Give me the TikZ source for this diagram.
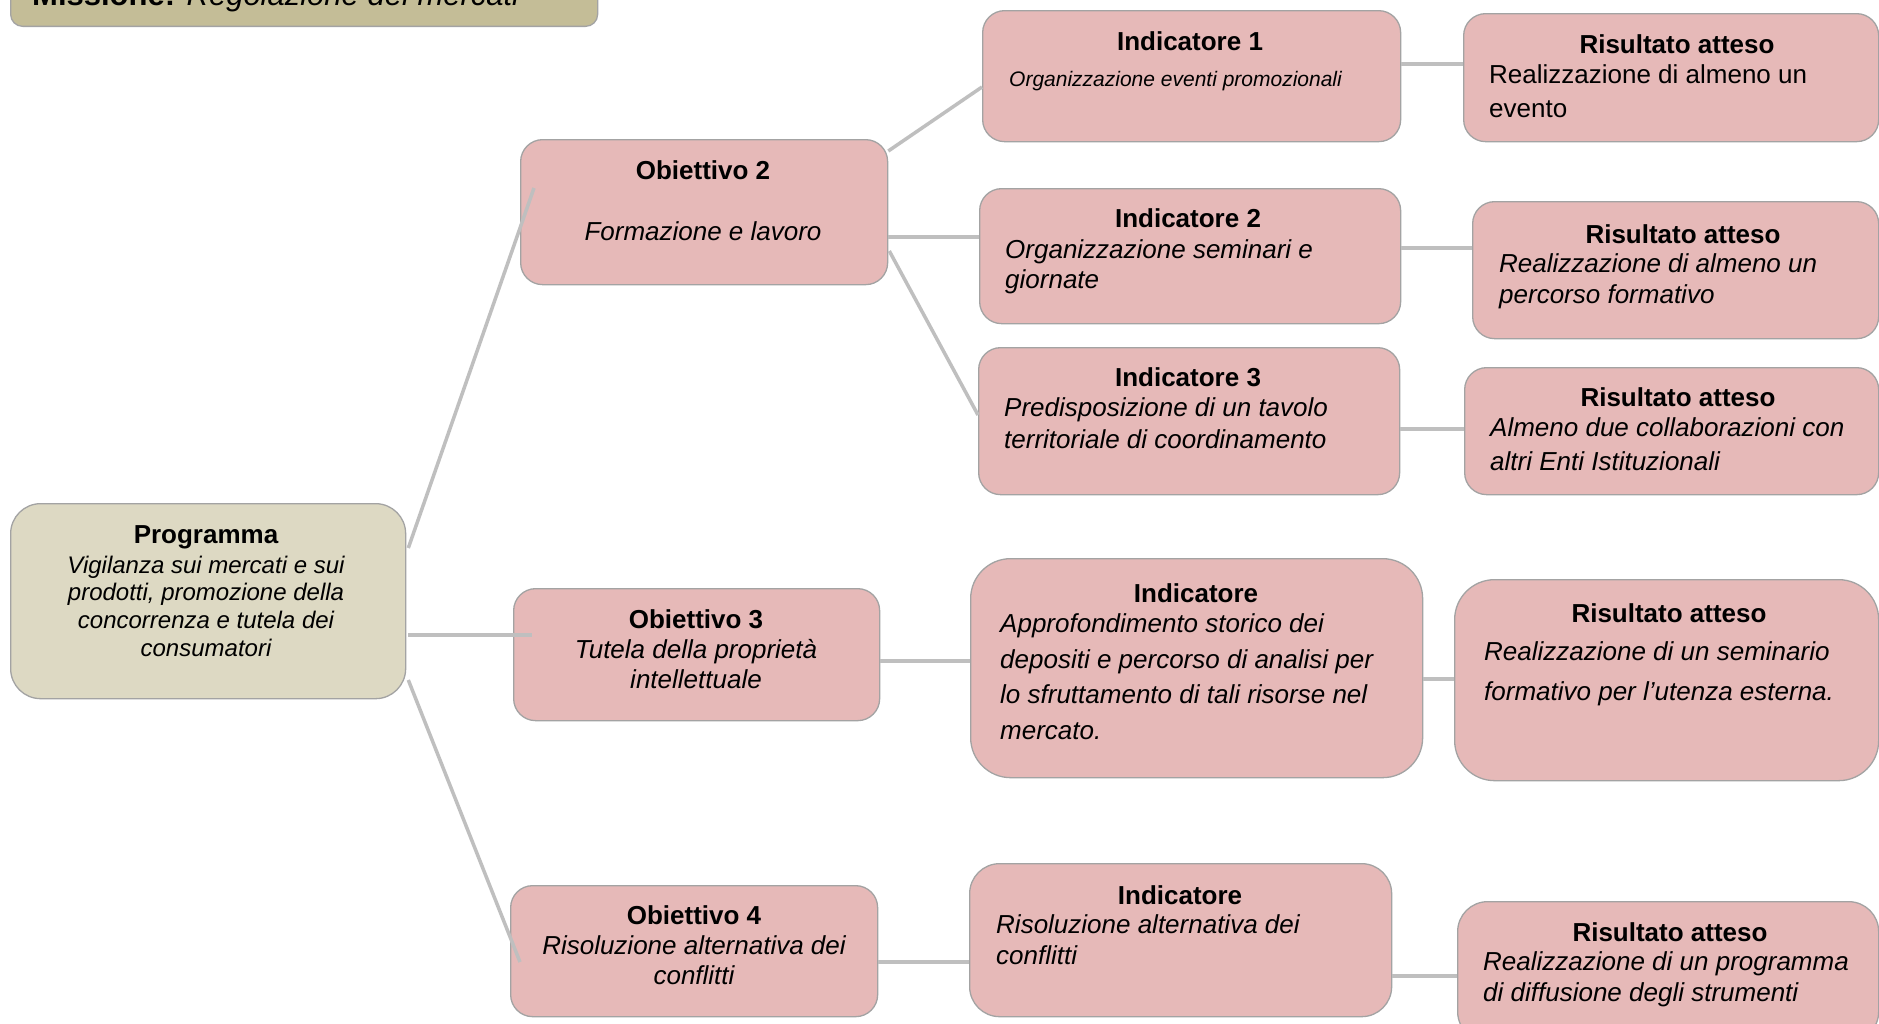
\documentclass[tikz,border=0pt]{standalone}
\usepackage{fontspec}
\setmainfont{Liberation Sans}
\usetikzlibrary{calc}
\definecolor{pinkf}{HTML}{E6B9B8}
\definecolor{tanf}{HTML}{DDD9C3}
\definecolor{tandark}{HTML}{C4BD97}
\definecolor{bordg}{HTML}{A3A3A3}
\definecolor{lineg}{HTML}{BFBFBF}
\tikzset{
  box/.style={draw=bordg, line width=1.3pt, fill=pinkf, rounded corners=22pt, inner sep=0pt, anchor=north west},
  bigbox/.style={box, rounded corners=40pt},
  ttl/.style={font=\fontsize{26}{30}\selectfont\bfseries, inner sep=0pt, anchor=center},
  bdy/.style={font=\fontsize{26}{#1}\selectfont\itshape, align=left, anchor=north west, inner sep=0pt},
  bdc/.style={font=\fontsize{26}{#1}\selectfont\itshape, align=center, anchor=north, inner sep=0pt},
  bdu/.style={font=\fontsize{26}{#1}\selectfont, align=left, anchor=north west, inner sep=0pt},
  conn/.style={draw=lineg, line width=3.5pt},
}
\begin{document}
\begin{tikzpicture}[x=1pt,y=-1pt]
\useasboundingbox (0,0) rectangle (1879,1023);
\fill[white] (0,0) rectangle (1879,1023);
\clip (0,0) rectangle (1879,1023);

% Missione
\node[box, fill=tandark, rounded corners=12pt, anchor=south west, minimum width=587pt, minimum height=80pt] (mis) at (10,27) {};
\node[anchor=base west, inner sep=0pt, font=\fontsize{31}{36}\selectfont] (mist) at (32,5) {\textbf{Missione:} \textit{Regolazione dei mercati}};

% Programma
\node[box, fill=tanf, rounded corners=30pt, minimum width=395pt, minimum height=195pt] (prog) at (10,503) {};
\node[ttl] (progt) at (206,537) {Programma};
\node[font=\fontsize{24}{27.7}\selectfont\itshape, align=center, anchor=north, inner sep=0pt] (progb) at (206,555.5)
  {Vigilanza sui mercati e sui\\prodotti, promozione della\\concorrenza e tutela dei\\consumatori};

% Obiettivi
\node[box, minimum width=367pt, minimum height=145pt] (ob2) at (520,139) {};
\node[ttl] (ob2t) at (703,170) {Obiettivo 2};
\node[font=\fontsize{26}{30}\selectfont\itshape, inner sep=0pt] (ob2b) at (703,231) {Formazione e lavoro};

\node[box, minimum width=366pt, minimum height=132pt] (ob3) at (513,588) {};
\node[ttl] (ob3t) at (696,619) {Obiettivo 3};
\node[bdc=30] (ob3b) at (696,639.5) {Tutela della proprietà\\intellettuale};

\node[box, minimum width=367pt, minimum height=131pt] (ob4) at (510,885) {};
\node[ttl] (ob4t) at (694,915) {Obiettivo 4};
\node[bdc=30] (ob4b) at (694,935.5) {Risoluzione alternativa dei\\conflitti};

% Indicatori
\node[box, minimum width=418pt, minimum height=131pt] (ind1) at (982,10) {};
\node[ttl] (ind1t) at (1190,41) {Indicatore 1};
\node[font=\fontsize{21}{25}\selectfont\itshape, anchor=north west, inner sep=0pt] (ind1b) at (1009,71.5) {Organizzazione eventi promozionali};

\node[box, minimum width=421pt, minimum height=135pt] (ind2) at (979,188) {};
\node[ttl] (ind2t) at (1188,218) {Indicatore 2};
\node[bdy=30] (ind2b) at (1005,239.5) {Organizzazione seminari e\\giornate};

\node[box, minimum width=421pt, minimum height=147pt] (ind3) at (978,347) {};
\node[ttl] (ind3t) at (1188,377) {Indicatore 3};
\node[bdy=32] (ind3b) at (1004,397.5) {Predisposizione di un tavolo\\territoriale di coordinamento};

\node[bigbox, minimum width=452pt, minimum height=219pt] (indo3) at (970,558) {};
\node[ttl] (indo3t) at (1196,593) {Indicatore};
\node[bdy=35.5] (indo3b) at (1000,613.5) {Approfondimento storico dei\\depositi e percorso di analisi per\\lo sfruttamento di tali risorse nel\\mercato.};

\node[box, rounded corners=30pt, minimum width=422pt, minimum height=153pt] (indo4) at (969,863) {};
\node[ttl] (indo4t) at (1180,895) {Indicatore};
\node[bdy=31] (indo4b) at (996,914.5) {Risoluzione alternativa dei\\conflitti};

% Risultati
\node[box, minimum width=415pt, minimum height=128pt] (ris1) at (1463,13) {};
\node[ttl] (ris1t) at (1677,44) {Risultato atteso};
\node[bdu=34] (ris1b) at (1489,64.5) {Realizzazione di almeno un\\evento};

\node[box, minimum width=406pt, minimum height=137pt] (ris2) at (1472,201) {};
\node[ttl] (ris2t) at (1683,234) {Risultato atteso};
\node[bdy=31] (ris2b) at (1499,253.5) {Realizzazione di almeno un\\percorso formativo};

\node[box, minimum width=414pt, minimum height=127pt] (ris3) at (1464,367) {};
\node[ttl] (ris3t) at (1678,397) {Risultato atteso};
\node[bdy=34] (ris3b) at (1490,417.5) {Almeno due collaborazioni con\\altri Enti Istituzionali};

\node[bigbox, minimum width=424pt, minimum height=201pt] (riso3) at (1454,579) {};
\node[ttl] (riso3t) at (1669,613) {Risultato atteso};
\node[bdy=40] (riso3b) at (1484,641.5) {Realizzazione di un seminario\\formativo per l’utenza esterna.};

\node[box, rounded corners=30pt, minimum width=421pt, minimum height=140pt] (riso4) at (1457,901) {};
\node[ttl] (riso4t) at (1670,932) {Risultato atteso};
\node[bdy=31] (riso4b) at (1483,951.5) {Realizzazione di un programma\\di diffusione degli strumenti};

% Connectors
\draw[conn] ($(prog.north east)+(2,45)$) -- ($(ob2.north west)+(14,49)$);
\draw[conn] ($(prog.north east)+(2,132)$) -- ($(ob3.north west)+(19,47)$);
\draw[conn] ($(prog.north east)+(2,177)$) -- ($(ob4.north west)+(10,77)$);
\draw[conn] ($(ob2.north east)+(0,12)$) -- ($(ind1.north west)+(0,77)$);
\draw[conn] ($(ob2.north east)+(0,98)$) -- ($(ind2.north west)+(0,49)$);
\draw[conn] ($(ob2.north east)+(1,112)$) -- ($(ind3.north west)+(0,68)$);
\draw[conn] ($(ind1.north east)+(0,54)$) -- ($(ris1.north west)+(0,51)$);
\draw[conn] ($(ind2.north east)+(0,60)$) -- ($(ris2.north west)+(0,47)$);
\draw[conn] ($(ind3.north east)+(0,82)$) -- ($(ris3.north west)+(0,62)$);
\draw[conn] ($(ob3.north east)+(0,73)$) -- ($(indo3.north west)+(0,103)$);
\draw[conn] ($(indo3.north east)+(0,121)$) -- ($(riso3.north west)+(0,100)$);
\draw[conn] ($(ob4.north east)+(0,77)$) -- ($(indo4.north west)+(0,99)$);
\draw[conn] ($(indo4.north east)+(0,113)$) -- ($(riso4.north west)+(0,75)$);
\end{tikzpicture}
\end{document}
